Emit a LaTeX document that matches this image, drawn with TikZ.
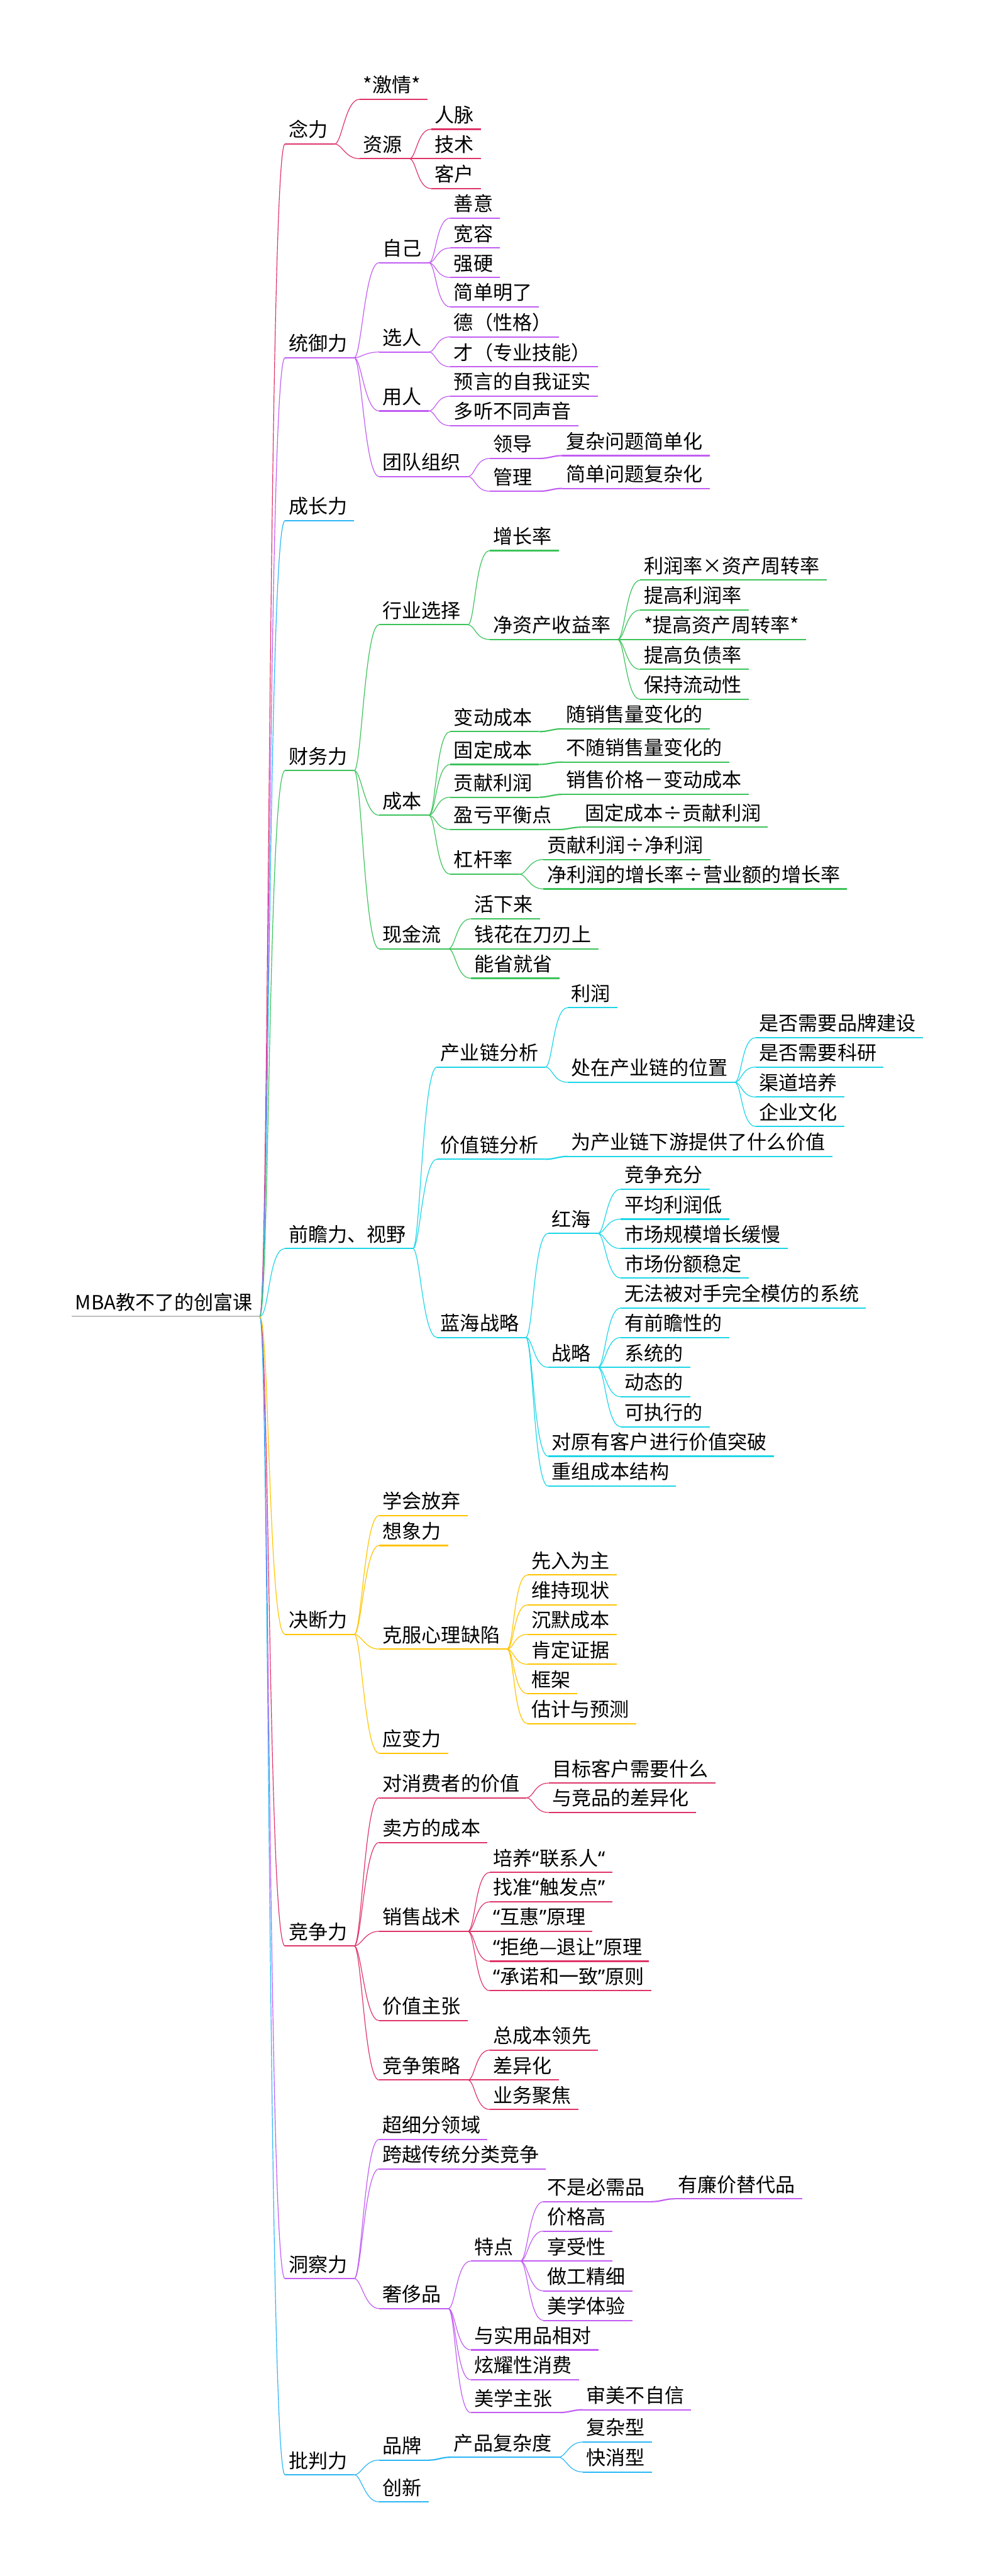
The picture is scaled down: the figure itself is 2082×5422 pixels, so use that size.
\documentclass[tikz,border=0pt]{standalone}
\usepackage{fontspec}
\newfontfamily\cjk{Noto Sans CJK SC}
\newfontfamily\latn{Noto Sans}
\definecolor{mmred}{RGB}{222,52,104}
\definecolor{mmpurple}{RGB}{194,92,242}
\definecolor{mmblue}{RGB}{44,182,245}
\definecolor{mmgreen}{RGB}{60,195,90}
\definecolor{mmcyan}{RGB}{28,214,232}
\definecolor{mmyellow}{RGB}{255,196,0}
\definecolor{mmgray}{RGB}{190,190,190}
\tikzstyle{every node}=[font=\cjk\fontsize{11.7pt}{14pt}\selectfont]
\tikzstyle{topic}=[anchor=south west, inner xsep=0.07cm, inner ysep=0.1cm, text depth=0.04cm, execute at end node={\hspace*{0.07cm}}]
\tikzset{
  ul/.style={topic, append after command={(\tikzlastnode.south west) edge[draw=#1, line width=0.8pt] (\tikzlastnode.south east)}},
  conn/.style={draw=#1, line width=0.45pt, to path={.. controls +(15,0) and +(-30,0) .. (\tikztotarget)}},
  trunk/.style={draw=#1, line width=0.45pt, to path={.. controls +(20,0) and +(-35,0) .. (\tikztotarget)}},
  hop/.style={draw=#1, line width=0.8pt, to path={.. controls +(20,0) and +(-20,0) .. (\tikztotarget)}}
}
\newcommand{\dvs}{\makebox[1em]{÷}}
\newcommand{\qo}{{\latn “}}
\newcommand{\qc}{{\latn ”}}

\begin{document}
\begin{tikzpicture}[x=0.01cm, y=-0.01cm]
\useasboundingbox (0,0) rectangle (2082,5422);

\node[ul=mmgray] (r) at (151,2771) {MBA教不了的创富课};

% 念力
\node[ul=mmred] (a) at (600,303) {念力};
\node[ul=mmred] (a1) at (757,209) {*激情*};
\node[ul=mmred] (a2) at (757,334) {资源};
\node[ul=mmred] (a21) at (908,272) {人脉};
\node[ul=mmred] (a22) at (908,334) {技术};
\node[ul=mmred] (a23) at (908,397) {客户};
\draw[conn=mmred] (a.south east) edge (a1.south west) edge (a2.south west);
\draw[conn=mmred] (a2.south east) edge (a21.south west) edge (a23.south west);
\draw[hop=mmred] (a2.south east) to (a22.south west);

% 统御力
\node[ul=mmpurple] (b) at (600,753) {统御力};
\node[ul=mmpurple] (b1) at (798,553) {自己};
\node[ul=mmpurple] (b11) at (948,459) {善意};
\node[ul=mmpurple] (b12) at (948,522) {宽容};
\node[ul=mmpurple] (b13) at (948,584) {强硬};
\node[ul=mmpurple] (b14) at (948,646) {简单明了};
\node[ul=mmpurple] (b2) at (798,741) {选人};
\node[ul=mmpurple] (b21) at (948,709) {德（性格）};
\node[ul=mmpurple] (b22) at (948,772) {才（专业技能）};
\node[ul=mmpurple] (b3) at (798,865) {用人};
\node[ul=mmpurple] (b31) at (948,834) {预言的自我证实};
\node[ul=mmpurple] (b32) at (948,896) {多听不同声音};
\node[ul=mmpurple] (b4) at (798,1003) {团队组织};
\node[ul=mmpurple] (b41) at (1031,965) {领导};
\node[ul=mmpurple] (b411) at (1184,959) {复杂问题简单化};
\node[ul=mmpurple] (b42) at (1031,1034) {管理};
\node[ul=mmpurple] (b421) at (1184,1028) {简单问题复杂化};
\draw[conn=mmpurple] (b.south east) edge (b1.south west) edge (b2.south west) edge (b3.south west) edge (b4.south west);
\draw[conn=mmpurple] (b1.south east) edge (b11.south west) edge (b12.south west) edge (b13.south west) edge (b14.south west);
\draw[conn=mmpurple] (b2.south east) edge (b21.south west) edge (b22.south west);
\draw[conn=mmpurple] (b3.south east) edge (b31.south west) edge (b32.south west);
\draw[conn=mmpurple] (b4.south east) edge (b41.south west) edge (b42.south west);
\draw[hop=mmpurple] (b41.south east) to (b411.south west);
\draw[hop=mmpurple] (b42.south east) to (b421.south west);

% 成长力
\node[ul=mmblue] (c) at (600,1096) {成长力};

% 财务力
\node[ul=mmgreen] (d) at (600,1622) {财务力};
\node[ul=mmgreen] (d1) at (798,1315) {行业选择};
\node[ul=mmgreen] (d11) at (1031,1159) {增长率};
\node[ul=mmgreen] (d12) at (1031,1346) {净资产收益率};
\node[ul=mmgreen] (d121) at (1348,1221) {利润率×资产周转率};
\node[ul=mmgreen] (d122) at (1348,1284) {提高利润率};
\node[ul=mmgreen] (d123) at (1348,1346) {*提高资产周转率*};
\node[ul=mmgreen] (d124) at (1348,1409) {提高负债率};
\node[ul=mmgreen] (d125) at (1348,1472) {保持流动性};
\node[ul=mmgreen] (d2) at (798,1716) {成本};
\node[ul=mmgreen] (d21) at (948,1540) {变动成本};
\node[ul=mmgreen] (d211) at (1184,1534) {随销售量变化的};
\node[ul=mmgreen] (d22) at (948,1609) {固定成本};
\node[ul=mmgreen] (d221) at (1184,1604) {不随销售量变化的};
\node[ul=mmgreen] (d23) at (948,1678) {贡献利润};
\node[ul=mmgreen] (d231) at (1184,1672) {销售价格－变动成本};
\node[ul=mmgreen] (d24) at (948,1746) {盈亏平衡点};
\node[ul=mmgreen] (d241) at (1224,1741) {固定成本\dvs 贡献利润};
\node[ul=mmgreen] (d25) at (948,1840) {杠杆率};
\node[ul=mmgreen] (d251) at (1144,1809) {贡献利润\dvs 净利润};
\node[ul=mmgreen] (d252) at (1144,1871) {净利润的增长率\dvs 营业额的增长率};
\node[ul=mmgreen] (d3) at (798,1997) {现金流};
\node[ul=mmgreen] (d31) at (991,1934) {活下来};
\node[ul=mmgreen] (d32) at (991,1997) {钱花在刀刃上};
\node[ul=mmgreen] (d33) at (991,2059) {能省就省};
\draw[conn=mmgreen] (d.south east) edge (d1.south west) edge (d2.south west) edge (d3.south west);
\draw[conn=mmgreen] (d1.south east) edge (d11.south west) edge (d12.south west);
\draw[conn=mmgreen] (d12.south east) edge (d121.south west) edge (d122.south west) edge (d124.south west) edge (d125.south west);
\draw[hop=mmgreen] (d12.south east) to (d123.south west);
\draw[conn=mmgreen] (d2.south east) edge (d21.south west) edge (d22.south west) edge (d23.south west) edge (d24.south west) edge (d25.south west);
\draw[hop=mmgreen] (d21.south east) to (d211.south west);
\draw[hop=mmgreen] (d22.south east) to (d221.south west);
\draw[hop=mmgreen] (d23.south east) to (d231.south west);
\draw[hop=mmgreen] (d24.south east) to (d241.south west);
\draw[conn=mmgreen] (d25.south east) edge (d251.south west) edge (d252.south west);
\draw[conn=mmgreen] (d3.south east) edge (d31.south west) edge (d33.south west);
\draw[hop=mmgreen] (d3.south east) to (d32.south west);

% 前瞻力、视野
\node[ul=mmcyan] (e) at (600,2628) {前瞻力、视野};
\node[ul=mmcyan] (e1) at (920,2246) {产业链分析};
\node[ul=mmcyan] (e11) at (1195,2121) {利润};
\node[ul=mmcyan] (e12) at (1195,2278) {处在产业链的位置};
\node[ul=mmcyan] (e121) at (1591,2184) {是否需要品牌建设};
\node[ul=mmcyan] (e122) at (1591,2246) {是否需要科研};
\node[ul=mmcyan] (e123) at (1591,2309) {渠道培养};
\node[ul=mmcyan] (e124) at (1591,2371) {企业文化};
\node[ul=mmcyan] (e2) at (920,2440) {价值链分析};
\node[ul=mmcyan] (e21) at (1195,2434) {为产业链下游提供了什么价值};
\node[ul=mmcyan] (e3) at (920,2815) {蓝海战略};
\node[ul=mmcyan] (e31) at (1154,2596) {红海};
\node[ul=mmcyan] (e311) at (1307,2503) {竞争充分};
\node[ul=mmcyan] (e312) at (1307,2566) {平均利润低};
\node[ul=mmcyan] (e313) at (1307,2628) {市场规模增长缓慢};
\node[ul=mmcyan] (e314) at (1307,2690) {市场份额稳定};
\node[ul=mmcyan] (e32) at (1154,2878) {战略};
\node[ul=mmcyan] (e321) at (1307,2753) {无法被对手完全模仿的系统};
\node[ul=mmcyan] (e322) at (1307,2815) {有前瞻性的};
\node[ul=mmcyan] (e323) at (1307,2878) {系统的};
\node[ul=mmcyan] (e324) at (1307,2940) {动态的};
\node[ul=mmcyan] (e325) at (1307,3003) {可执行的};
\node[ul=mmcyan] (e33) at (1154,3065) {对原有客户进行价值突破};
\node[ul=mmcyan] (e34) at (1154,3128) {重组成本结构};
\draw[conn=mmcyan] (e.south east) edge (e1.south west) edge (e2.south west) edge (e3.south west);
\draw[conn=mmcyan] (e1.south east) edge (e11.south west) edge (e12.south west);
\draw[conn=mmcyan] (e12.south east) edge (e121.south west) edge (e122.south west) edge (e123.south west) edge (e124.south west);
\draw[hop=mmcyan] (e2.south east) to (e21.south west);
\draw[conn=mmcyan] (e3.south east) edge (e31.south west) edge (e32.south west) edge (e33.south west) edge (e34.south west);
\draw[conn=mmcyan] (e31.south east) edge (e311.south west) edge (e312.south west) edge (e313.south west) edge (e314.south west);
\draw[conn=mmcyan] (e32.south east) edge (e321.south west) edge (e322.south west) edge (e324.south west) edge (e325.south west);
\draw[hop=mmcyan] (e32.south east) to (e323.south west);

% 决断力
\node[ul=mmyellow] (f) at (600,3440) {决断力};
\node[ul=mmyellow] (f1) at (798,3190) {学会放弃};
\node[ul=mmyellow] (f2) at (798,3253) {想象力};
\node[ul=mmyellow] (f3) at (798,3471) {克服心理缺陷};
\node[ul=mmyellow] (f31) at (1111,3315) {先入为主};
\node[ul=mmyellow] (f32) at (1111,3378) {维持现状};
\node[ul=mmyellow] (f33) at (1111,3440) {沉默成本};
\node[ul=mmyellow] (f34) at (1111,3503) {肯定证据};
\node[ul=mmyellow] (f35) at (1111,3565) {框架};
\node[ul=mmyellow] (f36) at (1111,3628) {估计与预测};
\node[ul=mmyellow] (f4) at (798,3690) {应变力};
\draw[conn=mmyellow] (f.south east) edge (f1.south west) edge (f2.south west) edge (f3.south west) edge (f4.south west);
\draw[conn=mmyellow] (f3.south east) edge (f31.south west) edge (f32.south west) edge (f33.south west) edge (f34.south west) edge (f35.south west) edge (f36.south west);

% 竞争力
\node[ul=mmred] (g) at (600,4096) {竞争力};
\node[ul=mmred] (g1) at (798,3784) {对消费者的价值};
\node[ul=mmred] (g11) at (1155,3753) {目标客户需要什么};
\node[ul=mmred] (g12) at (1155,3815) {与竞品的差异化};
\node[ul=mmred] (g2) at (798,3878) {卖方的成本};
\node[ul=mmred] (g3) at (798,4065) {销售战术};
\node[ul=mmred] (g31) at (1031,3941) {培养\qo 联系人\qo};
\node[ul=mmred] (g32) at (1031,4003) {找准\qo 触发点\qc};
\node[ul=mmred] (g33) at (1031,4065) {\qo 互惠\qc 原理};
\node[ul=mmred] (g34) at (1031,4128) {\qo 拒绝—退让\qc 原理};
\node[ul=mmred] (g35) at (1031,4190) {\qo 承诺和一致\qc 原则};
\node[ul=mmred] (g4) at (798,4253) {价值主张};
\node[ul=mmred] (g5) at (798,4378) {竞争策略};
\node[ul=mmred] (g51) at (1031,4315) {总成本领先};
\node[ul=mmred] (g52) at (1031,4378) {差异化};
\node[ul=mmred] (g53) at (1031,4440) {业务聚焦};
\draw[conn=mmred] (g.south east) edge (g1.south west) edge (g2.south west) edge (g3.south west) edge (g4.south west) edge (g5.south west);
\draw[conn=mmred] (g1.south east) edge (g11.south west) edge (g12.south west);
\draw[conn=mmred] (g3.south east) edge (g31.south west) edge (g32.south west) edge (g34.south west) edge (g35.south west);
\draw[hop=mmred] (g3.south east) to (g33.south west);
\draw[conn=mmred] (g5.south east) edge (g51.south west) edge (g53.south west);
\draw[hop=mmred] (g5.south east) to (g52.south west);

% 洞察力
\node[ul=mmpurple] (h) at (600,4796) {洞察力};
\node[ul=mmpurple] (h1) at (798,4503) {超细分领域};
\node[ul=mmpurple] (h2) at (798,4565) {跨越传统分类竞争};
\node[ul=mmpurple] (h3) at (798,4859) {奢侈品};
\node[ul=mmpurple] (h31) at (991,4759) {特点};
\node[ul=mmpurple] (h311) at (1144,4634) {不是必需品};
\node[ul=mmpurple] (h3111) at (1420,4628) {有廉价替代品};
\node[ul=mmpurple] (h312) at (1144,4696) {价格高};
\node[ul=mmpurple] (h313) at (1144,4759) {享受性};
\node[ul=mmpurple] (h314) at (1144,4822) {做工精细};
\node[ul=mmpurple] (h315) at (1144,4884) {美学体验};
\node[ul=mmpurple] (h32) at (991,4946) {与实用品相对};
\node[ul=mmpurple] (h33) at (991,5009) {炫耀性消费};
\node[ul=mmpurple] (h34) at (991,5078) {美学主张};
\node[ul=mmpurple] (h341) at (1227,5072) {审美不自信};
\draw[conn=mmpurple] (h.south east) edge (h1.south west) edge (h2.south west) edge (h3.south west);
\draw[conn=mmpurple] (h3.south east) edge (h31.south west) edge (h32.south west) edge (h33.south west) edge (h34.south west);
\draw[conn=mmpurple] (h31.south east) edge (h311.south west) edge (h312.south west) edge (h314.south west) edge (h315.south west);
\draw[hop=mmpurple] (h31.south east) to (h313.south west);
\draw[hop=mmpurple] (h311.south east) to (h3111.south west);
\draw[hop=mmpurple] (h34.south east) to (h341.south west);

% 批判力
\node[ul=mmblue] (i) at (600,5209) {批判力};
\node[ul=mmblue] (i1) at (798,5178) {品牌};
\node[ul=mmblue] (i11) at (948,5172) {产品复杂度};
\node[ul=mmblue] (i111) at (1227,5140) {复杂型};
\node[ul=mmblue] (i112) at (1227,5203) {快消型};
\node[ul=mmblue] (i2) at (798,5266) {创新};
\draw[conn=mmblue] (i.south east) edge (i1.south west) edge (i2.south west);
\draw[hop=mmblue] (i1.south east) to (i11.south west);
\draw[conn=mmblue] (i11.south east) edge (i111.south west) edge (i112.south west);

% trunk
\draw[trunk=mmred] (r.south east) edge (a.south west) edge (g.south west);
\draw[trunk=mmpurple] (r.south east) edge (b.south west) edge (h.south west);
\draw[trunk=mmblue] (r.south east) edge (c.south west) edge (i.south west);
\draw[trunk=mmgreen] (r.south east) edge (d.south west);
\draw[trunk=mmcyan] (r.south east) edge (e.south west);
\draw[trunk=mmyellow] (r.south east) edge (f.south west);
\end{tikzpicture}
\end{document}
